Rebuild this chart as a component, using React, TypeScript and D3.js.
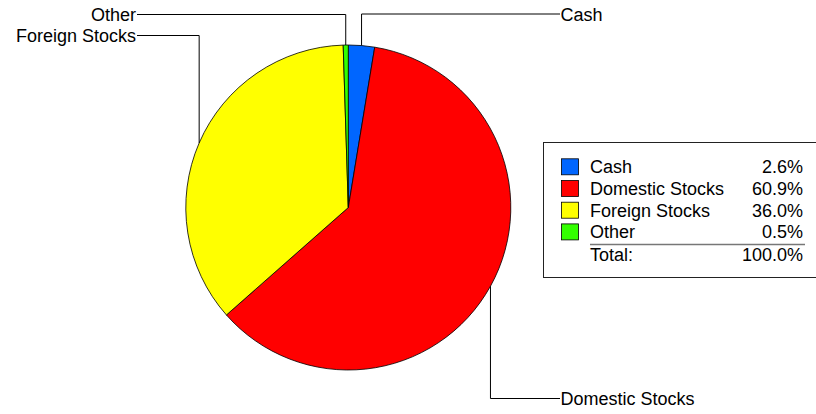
import { useEffect, useRef } from 'react';
import * as d3 from 'd3';

const categories = ['Cash', 'Domestic Stocks', 'Foreign Stocks', 'Other'];
const values = [2.6, 60.9, 36.0, 0.5];
const colors = ['#0066ff', '#ff0000', '#ffff00', '#33ff00'];

const width = 816;
const height = 414;
const font = '"Liberation Sans", Arial, Helvetica, sans-serif';

// where each callout label sits: y of the leader's horizontal run, x where it ends, side
const callouts = [
  { y: 14, x: 560, side: 'right' },
  { y: 398.5, x: 560, side: 'right' },
  { y: 35.5, x: 137, side: 'left' },
  { y: 14.5, x: 137, side: 'left' },
];

const App = () => {
  const containerRef = useRef<HTMLDivElement | null>(null);

  useEffect(() => {
    document.body.style.margin = '0';
    const node = containerRef.current;
    if (!node) return;
    node.innerHTML = '';

    const cx = 348.3;
    const cy = 207.5;
    const radius = 162.5;

    const svg = d3
      .create('svg')
      .attr('width', width)
      .attr('height', height)
      .attr('viewBox', [0, 0, width, height])
      .style('display', 'block')
      .style('background', '#fff')
      .attr('font-family', font)
      .attr('font-size', 18);

    const pie = d3
      .pie<number>()
      .sort(null)
      .value(d => d);
    const arcs = pie(values);
    const arc = d3.arc<d3.PieArcDatum<number>>().innerRadius(0).outerRadius(radius);

    const g = svg.append('g').attr('transform', `translate(${cx},${cy})`);
    g.selectAll('path')
      .data(arcs)
      .join('path')
      .attr('d', arc)
      .attr('fill', (_, i) => colors[i])
      .attr('stroke', '#000')
      .attr('stroke-width', 0.8)
      .attr('stroke-linejoin', 'round');

    // leader lines + labels
    arcs.forEach((a, i) => {
      const mid = (a.startAngle + a.endAngle) / 2;
      const ex = cx + radius * Math.sin(mid);
      const ey = cy - radius * Math.cos(mid);
      const c = callouts[i];
      svg
        .append('path')
        .attr('fill', 'none')
        .attr('stroke', '#000')
        .attr('stroke-width', 1)
        .attr('d', `M${ex},${ey}V${c.y}H${c.x}`);
      svg
        .append('text')
        .attr('x', c.side === 'right' ? c.x + 0.5 : c.x - 1)
        .attr('y', c.y + 6.5)
        .attr('text-anchor', c.side === 'right' ? 'start' : 'end')
        .attr('fill', '#000')
        .text(categories[i]);
    });

    // legend
    const lx = 543.5;
    const ly = 142.5;
    const rowY = d3.scaleLinear().domain([0, 1]).range([173.3, 195]);
    const total = d3.sum(values);

    svg
      .append('rect')
      .attr('x', lx)
      .attr('y', ly)
      .attr('width', 300)
      .attr('height', 135)
      .attr('fill', '#fff')
      .attr('stroke', '#222')
      .attr('stroke-width', 1);

    const rows = svg
      .append('g')
      .selectAll('g')
      .data(categories)
      .join('g')
      .attr('transform', (_, i) => `translate(0,${rowY(i)})`);

    rows
      .append('rect')
      .attr('x', 561.5)
      .attr('y', -14.5)
      .attr('width', 17)
      .attr('height', 16)
      .attr('fill', (_, i) => colors[i])
      .attr('stroke', '#000')
      .attr('stroke-width', 0.8);

    rows
      .append('text')
      .attr('x', 590)
      .attr('fill', '#000')
      .text(d => d);

    rows
      .append('text')
      .attr('x', 803)
      .attr('text-anchor', 'end')
      .attr('fill', '#000')
      .text((_, i) => `${values[i].toFixed(1)}%`);

    svg
      .append('line')
      .attr('x1', 590)
      .attr('x2', 805)
      .attr('y1', 244.5)
      .attr('y2', 244.5)
      .attr('stroke', '#777')
      .attr('stroke-width', 1.5);

    svg
      .append('text')
      .attr('x', 590)
      .attr('y', 261)
      .attr('fill', '#000')
      .text('Total:');

    svg
      .append('text')
      .attr('x', 803)
      .attr('y', 261)
      .attr('text-anchor', 'end')
      .attr('fill', '#000')
      .text(`${total.toFixed(1)}%`);

    node.append(svg.node() as Node);
  }, []);

  return <div ref={containerRef} />;
};

export default App;
